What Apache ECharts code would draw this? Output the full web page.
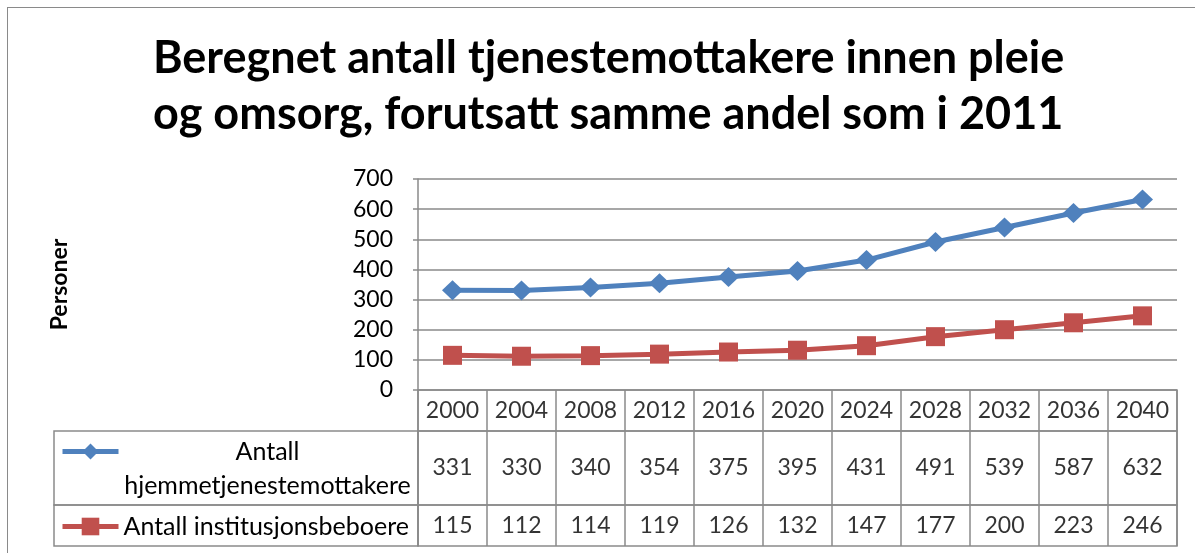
<!DOCTYPE html>
<html>
<head>
<meta charset="utf-8">
<script src="https://cdn.jsdelivr.net/npm/echarts@6/dist/echarts.min.js"></script>
<style>
  html, body { margin: 0; padding: 0; background: #fff; overflow: hidden; }
  #wrap { position: relative; width: 1195px; height: 553px; }
  #frame { position: absolute; left: 7px; top: 7px; width: 1300px; height: 700px; border: 1.5px solid #8a8a8a; pointer-events: none; }
  #chart { position: absolute; left: 0; top: 0; width: 1195px; height: 553px; }
</style>
</head>
<body>
<div id="wrap">
  <div id="frame"></div>
  <div id="chart"></div>
</div>
<script>
// data
const years = ['2000', '2004', '2008', '2012', '2016', '2020', '2024', '2028', '2032', '2036', '2040']
const hjemmeName = 'Antall hjemmetjenestemottakere'
const instName = 'Antall institusjonsbeboere'
const hjemmeValues = [331, 330, 340, 354, 375, 395, 431, 491, 539, 587, 632]
const instValues = [115, 112, 114, 119, 126, 132, 147, 177, 200, 223, 246]
const yTicks = [0, 100, 200, 300, 400, 500, 600, 700]

const FONT = 'Lato'
const BLUE = '#4f81bd'
const RED = '#c0504d'
const GRIDC = '#8a8a8a'
const TXT = 23
const LEG = 25

const chart = echarts.init(document.getElementById('chart'))

// table cell: hidden y axis 0..1, label at the middle of each category
function cellSeries (gridIdx, values) {
  return {
    type: 'scatter',
    xAxisIndex: gridIdx,
    yAxisIndex: gridIdx,
    symbolSize: 0,
    silent: true,
    data: values.map((v, i) => [years[i], 0.5, v]),
    label: {
      show: true,
      position: 'inside',
      formatter: p => String(p.data[2]),
      color: '#000',
      fontFamily: FONT,
      fontSize: TXT
    }
  }
}

const tableRow = { left: 418, width: 759, show: true, borderColor: GRIDC, borderWidth: 1.5, backgroundColor: 'transparent' }

const option = {
  animation: false,
  title: {
    text: 'Beregnet antall tjenestemottakere innen pleie\nog omsorg, forutsatt samme andel som i 2011',
    left: 153,
    top: 30,
    padding: 0,
    textAlign: 'left',
    textStyle: { fontFamily: FONT, fontWeight: 'bold', fontSize: 45, lineHeight: 56, color: '#000', align: 'center', width: 908 }
  },
  legend: [
    {
      data: [hjemmeName],
      left: 60,
      top: 405,
      padding: 0,
      itemWidth: 56,
      itemHeight: 20,
      itemGap: 5,
      selectedMode: false,
      lineStyle: { width: 5 },
      formatter: () => '{a| }\n{a|Antall}\n{a|hjemmetjenestemottakere}',
      textStyle: {
        rich: { a: { fontFamily: FONT, fontSize: LEG, lineHeight: 34, width: 288, align: 'center', color: '#000' } }
      }
    },
    {
      data: [instName],
      left: 60,
      top: 514,
      padding: 0,
      itemWidth: 56,
      itemHeight: 22,
      selectedMode: false,
      lineStyle: { width: 5 },
      textStyle: { fontFamily: FONT, fontSize: LEG, color: '#000' }
    }
  ],
  grid: [
    { left: 418, top: 179, width: 759, height: 211, show: false },
    Object.assign({ top: 390, height: 41 }, tableRow),
    Object.assign({ top: 431, height: 74 }, tableRow),
    Object.assign({ top: 505, height: 41 }, tableRow),
    { left: 54, top: 431, width: 364, height: 74, show: true, borderColor: GRIDC, borderWidth: 1.5 },
    { left: 54, top: 505, width: 364, height: 41, show: true, borderColor: GRIDC, borderWidth: 1.5 }
  ],
  xAxis: [
    { type: 'category', gridIndex: 0, data: years, boundaryGap: true, axisLine: { show: false }, axisTick: { show: false }, axisLabel: { show: false } },
    { type: 'category', gridIndex: 1, data: years, boundaryGap: true, axisLine: { show: false }, axisTick: { show: false }, axisLabel: { show: false }, splitLine: { show: true, interval: 0, lineStyle: { color: GRIDC, width: 1.5 } } },
    { type: 'category', gridIndex: 2, data: years, boundaryGap: true, axisLine: { show: false }, axisTick: { show: false }, axisLabel: { show: false }, splitLine: { show: true, interval: 0, lineStyle: { color: GRIDC, width: 1.5 } } },
    { type: 'category', gridIndex: 3, data: years, boundaryGap: true, axisLine: { show: false }, axisTick: { show: false }, axisLabel: { show: false }, splitLine: { show: true, interval: 0, lineStyle: { color: GRIDC, width: 1.5 } } },
    { type: 'value', gridIndex: 4, show: false, min: 0, max: 1 },
    { type: 'value', gridIndex: 5, show: false, min: 0, max: 1 }
  ],
  yAxis: [
    {
      type: 'value',
      gridIndex: 0,
      min: yTicks[0],
      max: yTicks[yTicks.length - 1],
      interval: 100,
      name: 'Personer',
      nameLocation: 'middle',
      nameRotate: 90,
      nameGap: 347,
      nameTextStyle: { fontFamily: FONT, fontWeight: 'bold', fontSize: 23, color: '#000' },
      axisLine: { show: true, lineStyle: { color: GRIDC, width: 1.5 } },
      axisTick: { show: true, length: 5, lineStyle: { color: GRIDC, width: 1.5 } },
      axisLabel: { margin: 25, color: '#000', fontFamily: FONT, fontSize: TXT },
      splitLine: { show: true, lineStyle: { color: GRIDC, width: 1.5 } }
    },
    { type: 'value', gridIndex: 1, show: false, min: 0, max: 1 },
    { type: 'value', gridIndex: 2, show: false, min: 0, max: 1 },
    { type: 'value', gridIndex: 3, show: false, min: 0, max: 1 },
    { type: 'value', gridIndex: 4, show: false, min: 0, max: 1 },
    { type: 'value', gridIndex: 5, show: false, min: 0, max: 1 }
  ],
  series: [
    {
      name: hjemmeName,
      type: 'line',
      xAxisIndex: 0,
      yAxisIndex: 0,
      data: hjemmeValues,
      symbol: 'diamond',
      symbolSize: [21, 20],
      lineStyle: { color: BLUE, width: 5 },
      itemStyle: { color: BLUE },
      z: 3
    },
    {
      name: instName,
      type: 'line',
      xAxisIndex: 0,
      yAxisIndex: 0,
      data: instValues,
      symbol: 'rect',
      symbolSize: 19,
      lineStyle: { color: RED, width: 5 },
      itemStyle: { color: RED },
      z: 2
    },
    cellSeries(1, years),
    cellSeries(2, hjemmeValues),
    cellSeries(3, instValues)
  ]
}

chart.setOption(option)
</script>
</body>
</html>
